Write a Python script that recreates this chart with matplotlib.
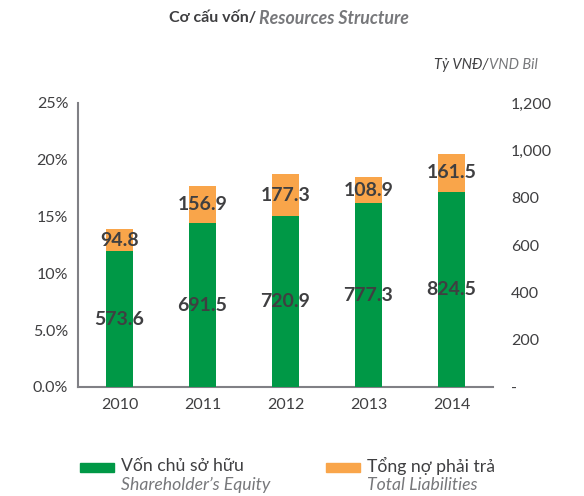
import matplotlib.pyplot as plt
from matplotlib.patches import Rectangle

plt.rcParams['font.family'] = ['Lato', 'Open Sans', 'DejaVu Sans']

years = ['2010', '2011', '2012', '2013', '2014']
equity = [573.6, 691.5, 720.9, 777.3, 824.5]
liabilities = [94.8, 156.9, 177.3, 108.9, 161.5]
pct_ticks = [0, 5, 10, 15, 20, 25]
pct_labels = ['0.0%', '5.0%', '10%', '15%', '20%', '25%']
bil_ticks = [0, 200, 400, 600, 800, 1000, 1200]
bil_labels = ['-', '200', '400', '600', '800', '1,000', '1,200']

green = '#009846'
orange = '#F9A54A'
dark = '#3f3f41'
grey = '#77787b'
spine = '#808085'

fig = plt.figure(figsize=(5.84, 4.96), dpi=100)
ax = fig.add_axes([78 / 584, 1 - 387 / 496, 415 / 584, 284 / 496])
ax2 = ax.twinx()

x = range(len(years))
ax2.bar(x, equity, width=0.33, color=green)
ax2.bar(x, liabilities, width=0.33, bottom=equity, color=orange)
for i in x:
    ax2.text(i, equity[i] / 2, f'{equity[i]:.1f}', ha='center', va='center',
             fontsize=14, fontweight='bold', color=dark)
    ax2.text(i, equity[i] + liabilities[i] / 2, f'{liabilities[i]:.1f}',
             ha='center', va='center', fontsize=14, fontweight='bold', color=dark)

ax.set_xlim(-0.5, 4.5)
ax.set_ylim(0, 25)
ax.set_yticks(pct_ticks)
ax.set_yticklabels(pct_labels)
ax2.set_ylim(0, 1200)
ax2.set_yticks(bil_ticks)
ax2.set_yticklabels(bil_labels)
ax.set_xticks(list(x))
ax.set_xticklabels(years)

for a in (ax, ax2):
    for s in ('top', 'right'):
        a.spines[s].set_visible(False)
    a.tick_params(colors=dark, labelsize=11.5)
ax2.spines['left'].set_visible(False)
ax2.spines['bottom'].set_visible(False)
ax.spines['left'].set_color(spine)
ax.spines['bottom'].set_color(spine)
ax.spines['left'].set_linewidth(1.5)
ax.spines['bottom'].set_linewidth(1.5)
ax.tick_params(axis='x', length=0, pad=8)
ax.tick_params(axis='y', length=0, pad=7)
ax2.tick_params(axis='y', length=0, pad=13)

# title and unit
fig.text(256 / 584, 1 - 18 / 496, 'Cơ cấu vốn/', ha='right', va='center',
         fontsize=11.5, fontweight='bold', color=dark)
fig.text(259 / 584, 1 - 18 / 496, 'Resources Structure', ha='left', va='center',
         fontsize=12.8, fontweight='bold', style='italic', color=grey)
fig.text(489 / 584, 1 - 65 / 496, 'Tỷ VNĐ/', ha='right', va='center',
         fontsize=10.5, style='italic', color=dark)
fig.text(489 / 584, 1 - 65 / 496, 'VND Bil', ha='left', va='center',
         fontsize=10.5, style='italic', color=grey)

# legend
for xs, col, l1, l2 in [(80, green, 'Vốn chủ sở hữu', 'Shareholder’s Equity'),
                        (326, orange, 'Tổng nợ phải trả', 'Total Liabilities')]:
    fig.add_artist(Rectangle((xs / 584, 1 - 472 / 496), 34 / 584, 9 / 496,
                             transform=fig.transFigure, color=col))
    fig.text((xs + 41) / 584, 1 - 466 / 496, l1, ha='left', va='center',
             fontsize=12.7, color=dark)
    fig.text((xs + 41) / 584, 1 - 485 / 496, l2, ha='left', va='center',
             fontsize=12.7, style='italic', color=grey)

fig.savefig('out.png', dpi=100)
